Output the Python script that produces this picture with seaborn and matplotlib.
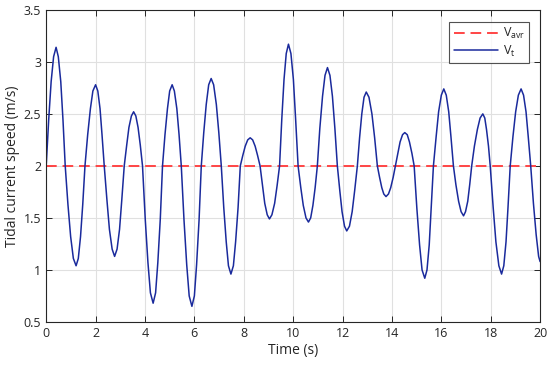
import matplotlib
matplotlib.use("Agg")
import matplotlib.pyplot as plt
import pandas as pd
import seaborn as sns

# values (time in s, speed in m/s)
time_s = [
    0.00, 0.10, 0.20, 0.30, 0.40, 0.49, 0.59, 0.68, 0.77,
    0.88, 0.99, 1.10, 1.21, 1.30, 1.39, 1.48, 1.57,
    1.68, 1.79, 1.89, 2.00, 2.09, 2.18, 2.26, 2.35,
    2.46, 2.56, 2.67, 2.77, 2.87, 2.97, 3.06, 3.16,
    3.26, 3.35, 3.45, 3.54, 3.63, 3.72, 3.81, 3.90,
    4.01, 4.12, 4.22, 4.33, 4.43, 4.52, 4.62, 4.71,
    4.81, 4.91, 5.00, 5.10, 5.19, 5.29, 5.38, 5.47,
    5.58, 5.69, 5.79, 5.90, 6.00, 6.09, 6.19, 6.28,
    6.38, 6.48, 6.58, 6.68, 6.78, 6.89, 6.99, 7.09,
    7.19, 7.29, 7.38, 7.48, 7.58, 7.67, 7.77, 7.86,
    7.96, 8.06, 8.16, 8.26, 8.36, 8.46, 8.56, 8.66,
    8.76, 8.85, 8.95, 9.04, 9.14, 9.25, 9.35, 9.45,
    9.54, 9.63, 9.72, 9.81, 9.91, 10.01, 10.10, 10.20,
    10.31, 10.41, 10.52, 10.62, 10.71, 10.80, 10.89, 10.98,
    11.08, 11.19, 11.29, 11.39, 11.49, 11.59, 11.69, 11.79,
    11.89, 11.98, 12.08, 12.17, 12.28, 12.39, 12.49, 12.60,
    12.69, 12.78, 12.87, 12.96, 13.07, 13.19, 13.30, 13.41,
    13.50, 13.59, 13.67, 13.76, 13.86, 13.95, 14.05, 14.14,
    14.24, 14.33, 14.43, 14.52, 14.62, 14.71, 14.81, 14.90,
    15.01, 15.12, 15.22, 15.33, 15.42, 15.51, 15.59, 15.68,
    15.79, 15.89, 16.00, 16.10, 16.20, 16.30, 16.39, 16.49,
    16.59, 16.70, 16.80, 16.90, 16.98, 17.07, 17.15, 17.23,
    17.34, 17.46, 17.57, 17.68, 17.76, 17.83, 17.91, 17.98,
    18.10, 18.21, 18.33, 18.44, 18.53, 18.62, 18.70, 18.79,
    18.90, 19.01, 19.12, 19.23, 19.33, 19.43, 19.52, 19.62,
    19.73, 19.84, 19.94, 20.00,
]
speed = [
    2.00, 2.44, 2.81, 3.05, 3.14, 3.05, 2.81, 2.44, 2.00,
    1.63, 1.32, 1.11, 1.04, 1.11, 1.32, 1.63, 2.00,
    2.30, 2.55, 2.72, 2.78, 2.72, 2.55, 2.30, 2.00,
    1.67, 1.39, 1.20, 1.13, 1.20, 1.39, 1.67, 2.00,
    2.20, 2.37, 2.48, 2.52, 2.48, 2.37, 2.20, 2.00,
    1.49, 1.07, 0.78, 0.68, 0.78, 1.07, 1.49, 2.00,
    2.30, 2.55, 2.72, 2.78, 2.72, 2.55, 2.30, 2.00,
    1.48, 1.05, 0.75, 0.65, 0.75, 1.05, 1.48, 2.00,
    2.32, 2.59, 2.78, 2.84, 2.78, 2.59, 2.32, 2.00,
    1.60, 1.27, 1.04, 0.96, 1.04, 1.27, 1.60, 2.00,
    2.10, 2.19, 2.25, 2.27, 2.25, 2.19, 2.10, 2.00,
    1.81, 1.64, 1.53, 1.49, 1.53, 1.64, 1.81, 2.00,
    2.45, 2.83, 3.08, 3.17, 3.08, 2.83, 2.45, 2.00,
    1.79, 1.62, 1.50, 1.46, 1.50, 1.62, 1.79, 2.00,
    2.36, 2.67, 2.87, 2.945, 2.87, 2.67, 2.36, 2.00,
    1.76, 1.56, 1.42, 1.375, 1.42, 1.56, 1.76, 2.00,
    2.27, 2.50, 2.66, 2.71, 2.66, 2.50, 2.27, 2.00,
    1.89, 1.79, 1.73, 1.705, 1.73, 1.79, 1.89, 2.00,
    2.12, 2.23, 2.30, 2.32, 2.30, 2.23, 2.12, 2.00,
    1.59, 1.24, 1.00, 0.92, 1.00, 1.24, 1.59, 2.00,
    2.28, 2.52, 2.68, 2.74, 2.68, 2.52, 2.28, 2.00,
    1.82, 1.66, 1.56, 1.52, 1.56, 1.66, 1.82, 2.00,
    2.19, 2.35, 2.46, 2.50, 2.46, 2.35, 2.19, 2.00,
    1.60, 1.27, 1.04, 0.96, 1.04, 1.27, 1.60, 2.00,
    2.28, 2.52, 2.68, 2.74, 2.68, 2.52, 2.28, 2.00,
    1.64, 1.34, 1.13, 1.08,
]
v_avr = 2.0

sns.set_style("white")
plt.rcParams["font.family"] = ["Open Sans", "DejaVu Sans"]

df = pd.DataFrame({"time": time_s, "speed": speed})
df["avr"] = v_avr

fig, ax = plt.subplots(figsize=(5.5, 3.65), dpi=100)
fig.subplots_adjust(left=0.084, right=0.982, bottom=0.118, top=0.973)

sns.lineplot(data=df, x="time", y="avr", ax=ax, color="#ff4545", linestyle=(0, (5.5, 3)),
             linewidth=1.4, label=r"$\mathregular{V_{avr}}$")
sns.lineplot(data=df, x="time", y="speed", ax=ax, color="#1a2a9c", linewidth=1.1,
             label=r"$\mathregular{V_{t}}$")

ax.set_xlim(0, 20)
ax.set_ylim(0.5, 3.5)
ax.set_xticks(range(0, 21, 2))
ax.set_yticks([0.5, 1, 1.5, 2, 2.5, 3, 3.5])
ax.set_yticklabels(["0.5", "1", "1.5", "2", "2.5", "3", "3.5"])
ax.grid(True, color="#e0e0e0", linewidth=0.8)
ax.set_axisbelow(True)
for s in ax.spines.values():
    s.set_color("#262626")
    s.set_linewidth(0.8)
ax.tick_params(direction="in", length=4, width=0.7, colors="#262626", labelsize=9,
               top=True, right=True, left=True, bottom=True)
ax.set_xlabel("Time (s)", fontsize=10, color="#262626", labelpad=2)
ax.set_ylabel("Tidal current speed (m/s)", fontsize=10, color="#262626", labelpad=3)

leg = ax.legend(loc="upper right", bbox_to_anchor=(0.978, 0.962), borderaxespad=0,
                fontsize=9, frameon=True, fancybox=False, handlelength=3.5,
                borderpad=0.35, labelspacing=0.2, handletextpad=0.4)
leg.get_frame().set_edgecolor("#262626")
leg.get_frame().set_linewidth(0.8)

fig.savefig("out.png", dpi=100)
